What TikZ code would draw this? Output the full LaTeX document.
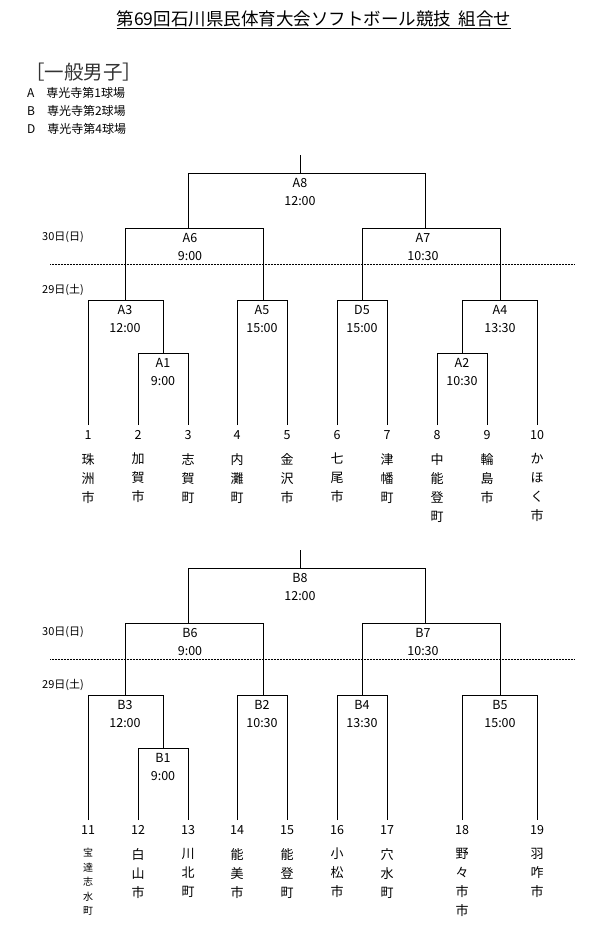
\documentclass[tikz,border=0pt]{standalone}
\usepackage{fontspec}
\setmainfont{Noto Sans CJK JP}
\begin{document}
\begin{tikzpicture}[x=1pt,y=-1pt,
  br/.style={line width=0.6pt},
  lab/.style={font=\fontsize{12.5}{12.5}\selectfont,inner sep=0pt,anchor=center},
  nm/.style={font=\fontsize{13}{19}\selectfont,inner sep=0pt,anchor=north,align=center},
  sm/.style={font=\fontsize{10}{14.5}\selectfont,inner sep=0pt,anchor=north,align=center}]
\useasboundingbox (0,0) rectangle (600,946);
\node[inner sep=0pt,font=\fontsize{17.5}{17.5}\selectfont] (title) at (314,20) {\underline{第69回石川県民体育大会ソフトボール競技\ \ 組合せ}};
\node[anchor=west,inner sep=0pt,font=\fontsize{19.5}{19.5}\selectfont\color{black!80}] (cat) at (25,72) {［一般男子］};
\node[anchor=west,inner sep=0pt,font=\fontsize{12}{12}\selectfont] (la) at (27,93) {A\quad 専光寺第1球場};
\node[anchor=west,inner sep=0pt,font=\fontsize{12}{12}\selectfont] (lb) at (27,111) {B\quad 専光寺第2球場};
\node[anchor=west,inner sep=0pt,font=\fontsize{12}{12}\selectfont] (ld) at (27,129) {D\quad 専光寺第4球場};
\newcommand{\brk}[5]{\draw[br] (#1,#4) -- (#1,#3) -- (#2,#3) -- (#2,#5);}
\newcommand{\mlab}[5]{\node[lab] (#1a) at (#2,#3+10) {#4}; \node[lab] (#1b) at (#2,#3+28) {#5};}
% ---------- top ----------
\begin{scope}
\draw[br] (300,155) -- (300,173);
\brk{188}{425}{173}{228}{228}\mlab{a8}{300}{173}{A8}{12:00}
\brk{125}{263}{228}{300}{300}\mlab{a6}{190}{228}{A6}{9:00}
\brk{362}{500}{228}{300}{300}\mlab{a7}{423}{228}{A7}{10:30}
\brk{88}{163}{300}{425}{353}\mlab{a3}{125}{300}{A3}{12:00}
\brk{138}{188}{353}{425}{425}\mlab{a1}{163}{353}{A1}{9:00}
\brk{237}{287}{300}{425}{425}\mlab{a5}{262}{300}{A5}{15:00}
\brk{337}{387}{300}{425}{425}\mlab{d5}{362}{300}{D5}{15:00}
\brk{462}{537}{300}{353}{425}\mlab{a4}{500}{300}{A4}{13:30}
\brk{437}{487}{353}{425}{425}\mlab{a2}{462}{353}{A2}{10:30}
\draw[densely dotted,line width=0.5pt] (50,264) -- (575,264);
\node[lab,font=\fontsize{11}{11}\selectfont] (d30) at (63,237) {30日(日)};
\node[lab,font=\fontsize{11}{11}\selectfont] (d29) at (63,290) {29日(土)};
\foreach \n/\x/\s in {1/88/珠\\洲\\市,2/138/加\\賀\\市,3/188/志\\賀\\町,4/237/内\\灘\\町,5/287/金\\沢\\市,6/337/七\\尾\\市,7/387/津\\幡\\町,8/437/中\\能\\登\\町,9/487/輪\\島\\市,10/537/か\\ほ\\く\\市}{
  \node[lab] (t\n) at (\x,435) {\n};
  \node[nm] (tn\n) at (\x,453) {\s};
}
\end{scope}
% ---------- bottom ----------
\begin{scope}[yshift=-395pt]
\draw[br] (300,155) -- (300,173);
\brk{188}{425}{173}{228}{228}\mlab{b8}{300}{173}{B8}{12:00}
\brk{125}{263}{228}{300}{300}\mlab{b6}{190}{228}{B6}{9:00}
\brk{362}{500}{228}{300}{300}\mlab{b7}{423}{228}{B7}{10:30}
\brk{88}{163}{300}{425}{353}\mlab{b3}{125}{300}{B3}{12:00}
\brk{138}{188}{353}{425}{425}\mlab{b1}{163}{353}{B1}{9:00}
\brk{237}{287}{300}{425}{425}\mlab{b2}{262}{300}{B2}{10:30}
\brk{337}{387}{300}{425}{425}\mlab{b4}{362}{300}{B4}{13:30}
\brk{462}{537}{300}{425}{425}\mlab{b5}{500}{300}{B5}{15:00}
\draw[densely dotted,line width=0.5pt] (50,264) -- (575,264);
\node[lab,font=\fontsize{11}{11}\selectfont] (e30) at (63,237) {30日(日)};
\node[lab,font=\fontsize{11}{11}\selectfont] (e29) at (63,290) {29日(土)};
\foreach \n/\x/\s in {12/138/白\\山\\市,13/188/川\\北\\町,14/237/能\\美\\市,15/287/能\\登\\町,16/337/小\\松\\市,17/387/穴\\水\\町,18/462/野\\々\\市\\市,19/537/羽\\咋\\市}{
  \node[lab] (u\n) at (\x,435) {\n};
  \node[nm] (un\n) at (\x,453) {\s};
}
\node[lab] (u11) at (88,435) {11};
\node[sm] (un11) at (88,453) {宝\\達\\志\\水\\町};
\end{scope}
\end{tikzpicture}
\end{document}
